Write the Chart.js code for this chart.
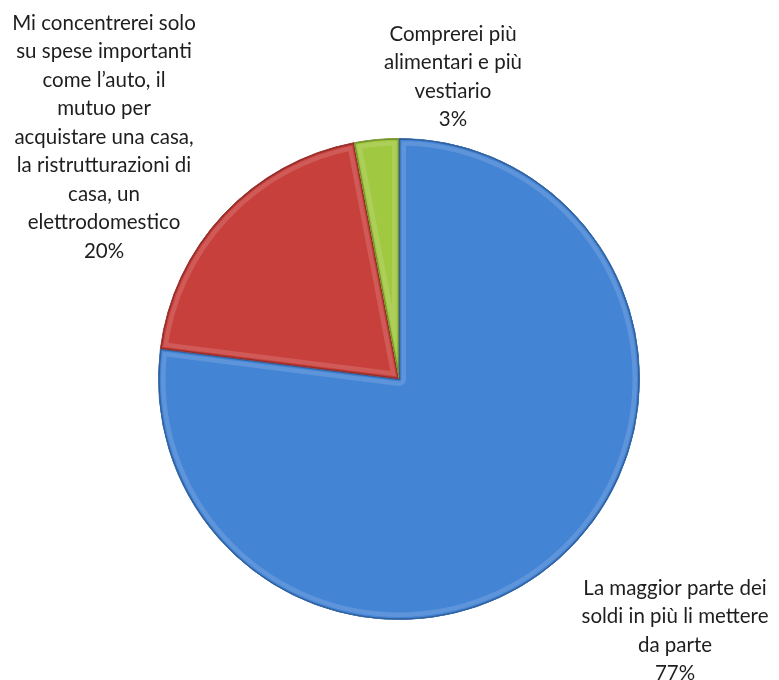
<!DOCTYPE html>
<html><head><meta charset="utf-8">
<script src="https://cdn.jsdelivr.net/npm/chart.js@4"></script>
<style>html,body{margin:0;padding:0;background:#fff}#wrap{width:779px;height:680px;position:relative}</style>
</head><body><div id="wrap"><canvas id="c" width="779" height="680"></canvas></div>
<script>
const categories = [
  "La maggior parte dei soldi in più li mettere da parte",
  "Mi concentrerei solo su spese importanti come l’auto, il mutuo per acquistare una casa, la ristrutturazioni di casa, un elettrodomestico",
  "Comprerei più alimentari e più vestiario"
];
const values = [77, 20, 3];
const labelLines = [
  ["La maggior parte dei", "soldi in più li mettere", "da parte"],
  ["Mi concentrerei solo", "su spese importanti", "come l’auto, il", "mutuo per", "acquistare una casa,", "la ristrutturazioni di", "casa, un", "elettrodomestico"],
  ["Comprerei più", "alimentari e più", "vestiario"]
];
const baseColors = [[68,132,212],[200,64,60],[160,200,64]];

function shade(c,f,a){const v=c.map(v=>Math.max(0,Math.min(255,Math.round(f>1?v+(255-v)*(f-1):v*f))));return a==null?'rgb('+v.join(',')+')':'rgba('+v.join(',')+','+a+')';}

const bevelPlugin={
  id:'bevel',
  afterDatasetsDraw(chart){
    const ctx=chart.ctx; const meta=chart.getDatasetMeta(0);
    meta.data.forEach((el,i)=>{
      const c=baseColors[i];
      const {x,y,startAngle,endAngle,outerRadius:r}=el;
      const path=()=>{ctx.beginPath();ctx.moveTo(x,y);ctx.arc(x,y,r,startAngle,endAngle);ctx.closePath();};
      ctx.save();
      path(); ctx.clip();
      // soft light band along inner edges
      path(); ctx.lineJoin='round';
      ctx.strokeStyle=shade(c,1.25,0.55); ctx.lineWidth=14; ctx.stroke();
      path(); ctx.strokeStyle=shade(c,1.0,1); ctx.lineWidth=5; ctx.stroke();
      path(); ctx.strokeStyle=shade(c,0.72,1); ctx.lineWidth=2.5; ctx.stroke();
      ctx.restore();
    });
  }
};

const labelPlugin={
  id:'outLabels',
  afterDraw(chart,args,opts){
    const ctx=chart.ctx; const meta=chart.getDatasetMeta(0);
    ctx.save();
    ctx.font=opts.font; ctx.fillStyle='#1e1e1e'; ctx.textAlign='center'; ctx.textBaseline='middle';
    meta.data.forEach((el,i)=>{
      const p=opts.positions[i];
      const lines=labelLines[i].concat([values[i]+'%']);
      lines.forEach((t,k)=>ctx.fillText(t,el.x+p.dx,el.y+p.dy+k*opts.lineHeight));
    });
    ctx.restore();
  }
};

new Chart(document.getElementById('c'),{
  type:'pie',
  data:{labels:categories,datasets:[{data:values,backgroundColor:baseColors.map(c=>shade(c,1)),borderColor:['#2f5f9e','#8f2e2b','#6f8d2c'],borderWidth:1}]},
  options:{
    responsive:false,animation:false,
    layout:{padding:{left:158,right:139,top:138,bottom:60}},
    plugins:{legend:{display:false},tooltip:{enabled:false},
      outLabels:{font:'20.5px Lato',lineHeight:28.5,positions:[{dx:276,dy:209},{dx:-295,dy:-356},{dx:54,dy:-345}]}}
  },
  plugins:[bevelPlugin,labelPlugin]
});
</script></body></html>
